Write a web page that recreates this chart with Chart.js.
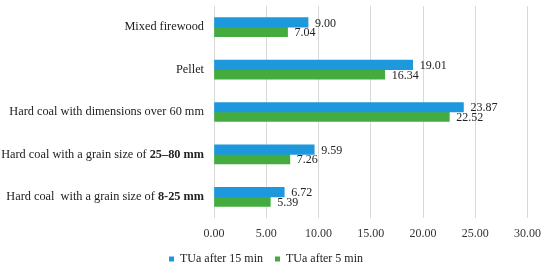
<!DOCTYPE html>
<html>
<head>
<meta charset="utf-8">
<script src="https://cdn.jsdelivr.net/npm/chart.js@4"></script>
<style>
  body { margin: 0; background: #fff; }
  #wrap { width: 550px; height: 268px; }
</style>
</head>
<body>
<div id="wrap"><canvas id="chart"></canvas></div>
<script>
const categories = [
  "Mixed firewood",
  "Pellet",
  "Hard coal with dimensions over 60 mm",
  "Hard coal with a grain size of 25\u201380 mm",
  "Hard coal  with a grain size of 8-25 mm"
];
// part of each category label printed in bold in the original
const boldParts = ["", "", "", "25\u201380 mm", "8-25 mm"];
const after15 = [9.00, 19.01, 23.87, 9.59, 6.72];
const after5 = [7.04, 16.34, 22.52, 7.26, 5.39];
const seriesNames = ["TUa after 15 min", "TUa after 5 min"];

const BLUE = "rgb(30,152,220)";
const GREEN = "rgb(68,172,62)";
const FONT = "'Liberation Serif', 'Times New Roman', serif";

// category labels with a bold tail, drawn at the y scale's tick positions
const categoryLabels = {
  id: "categoryLabels",
  afterDraw(chart) {
    const ctx = chart.ctx;
    const y = chart.scales.y;
    const right = chart.chartArea.left - 10;
    ctx.save();
    ctx.fillStyle = "#222";
    ctx.textBaseline = "middle";
    ctx.textAlign = "left";
    categories.forEach((label, i) => {
      const bold = boldParts[i];
      const plain = bold ? label.slice(0, label.length - bold.length) : label;
      const py = y.getPixelForTick(i);
      ctx.font = "bold 12.3px " + FONT;
      const wb = bold ? ctx.measureText(bold).width : 0;
      ctx.font = "12.3px " + FONT;
      const wp = ctx.measureText(plain).width;
      const x = right - wb - wp;
      ctx.fillText(plain, x, py);
      if (bold) {
        ctx.font = "bold 12.3px " + FONT;
        ctx.fillText(bold, x + wp, py);
      }
    });
    ctx.restore();
  }
};

// value labels at bar ends
const valueLabels = {
  id: "valueLabels",
  afterDatasetsDraw(chart) {
    const ctx = chart.ctx;
    ctx.save();
    ctx.font = "12px " + FONT;
    ctx.fillStyle = "#222";
    ctx.textBaseline = "middle";
    chart.data.datasets.forEach((ds, i) => {
      chart.getDatasetMeta(i).data.forEach((bar, j) => {
        ctx.fillText(ds.data[j].toFixed(2), bar.x + 7, bar.y + 1);
      });
    });
    ctx.restore();
  }
};

new Chart(document.getElementById("chart"), {
  type: "bar",
  data: {
    labels: categories,
    datasets: [
      { label: seriesNames[0], data: after15, backgroundColor: BLUE, barThickness: 9.5 },
      { label: seriesNames[1], data: after5, backgroundColor: GREEN, barThickness: 9.5 }
    ]
  },
  options: {
    indexAxis: "y",
    responsive: true,
    maintainAspectRatio: false,
    animation: false,
    layout: { padding: { top: 6, right: 18, left: 0, bottom: -7 } },
    scales: {
      x: {
        min: 0,
        max: 30,
        afterFit(scale) { scale.height = 23; },
        ticks: {
          stepSize: 5,
          callback: (v) => v.toFixed(2),
          font: { family: FONT, size: 12 },
          color: "#333",
          padding: 9
        },
        grid: { color: "#d9d9d9", drawTicks: false },
        border: { display: false }
      },
      y: {
        afterFit(scale) { scale.width = 214; },
        ticks: { display: false },
        grid: { display: false },
        border: { display: false }
      }
    },
    plugins: {
      legend: {
        position: "bottom",
        labels: {
          boxWidth: 5,
          boxHeight: 5,
          font: { family: FONT, size: 12 },
          color: "#222",
          padding: 12
        }
      },
      tooltip: { enabled: false }
    }
  },
  plugins: [valueLabels, categoryLabels]
});
</script>
</body>
</html>
